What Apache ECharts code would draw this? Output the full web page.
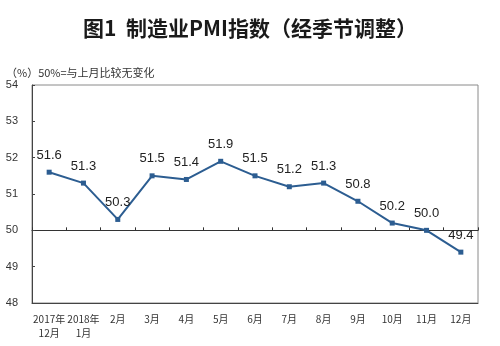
<!DOCTYPE html>
<html>
<head>
<meta charset="utf-8">
<script src="https://cdn.jsdelivr.net/npm/echarts@6/dist/echarts.min.js"></script>
<style>
  html, body { margin: 0; padding: 0; background: #fff; }
  #chart { width: 500px; height: 346px; }
</style>
</head>
<body>
<div id="chart"></div>
<script>
// Monthly manufacturing PMI, seasonally adjusted
const categories = ['2017年\n12月', '2018年\n1月', '2月', '3月', '4月', '5月', '6月', '7月', '8月', '9月', '10月', '11月', '12月'];
const pmiValues = [51.6, 51.3, 50.3, 51.5, 51.4, 51.9, 51.5, 51.2, 51.3, 50.8, 50.2, 50.0, 49.4];
const yTicks = [48, 49, 50, 51, 52, 53, 54];

const yMin = yTicks[0];
const yMax = yTicks[yTicks.length - 1];
const baseline = 50;
const gridTop = 85, gridBottom = 43, chartHeight = 346;
const gridHeight = chartHeight - gridTop - gridBottom;
// lift the tick-only axis up to the 50 line
const baselineOffset = -gridHeight * (baseline - yMin) / (yMax - yMin);

const chart = echarts.init(document.getElementById('chart'), null, { renderer: 'canvas' });
chart.setOption({
  backgroundColor: '#fff',
  animation: false,
  title: [
    {
      text: '图1  制造业PMI指数（经季节调整）',
      left: 'center',
      top: 13,
      textStyle: { fontFamily: 'Noto Sans CJK SC', fontSize: 21, fontWeight: 'bold', color: '#1a1a1a' }
    },
    {
      text: '（%）50%=与上月比较无变化',
      left: 1,
      top: 62,
      textStyle: { fontFamily: 'Noto Sans CJK SC', fontSize: 11, fontWeight: 'normal', color: '#333' }
    }
  ],
  grid: {
    left: 32, right: 22, top: gridTop, bottom: gridBottom,
    show: true, borderColor: '#8a8a8a', borderWidth: 1, backgroundColor: 'transparent'
  },
  xAxis: [
    {
      type: 'category',
      data: categories,
      boundaryGap: true,
      position: 'bottom',
      axisLine: { lineStyle: { color: '#444', width: 1 } },
      axisTick: { show: false },
      axisLabel: {
        interval: 0, margin: 9, lineHeight: 14,
        fontFamily: 'Noto Sans CJK SC', fontSize: 10, color: '#333'
      },
      splitLine: { show: false }
    },
    {
      type: 'category',
      data: categories,
      boundaryGap: true,
      position: 'bottom',
      offset: baselineOffset,
      axisLine: { lineStyle: { color: '#333', width: 1 } },
      axisTick: { show: true, inside: true, length: 3, interval: 0, lineStyle: { color: '#333' } },
      axisLabel: { show: false },
      splitLine: { show: false }
    }
  ],
  yAxis: {
    type: 'value',
    min: yMin, max: yMax, interval: 1,
    axisLine: { show: true, lineStyle: { color: '#444', width: 1 } },
    axisTick: { show: true, inside: true, length: 3, lineStyle: { color: '#444' } },
    axisLabel: { margin: 14, fontFamily: 'Liberation Sans', fontSize: 11, color: '#333' },
    splitLine: { show: false }
  },
  series: [{
    type: 'line',
    xAxisIndex: 0,
    data: pmiValues,
    symbol: 'rect',
    symbolSize: 5,
    lineStyle: { color: '#2c5d91', width: 2 },
    itemStyle: { color: '#2c5d91' },
    label: {
      show: true,
      position: 'top',
      distance: 8,
      fontFamily: 'Liberation Sans',
      fontSize: 13,
      color: '#222',
      formatter: p => p.value.toFixed(1)
    }
  }]
});
</script>
</body>
</html>
